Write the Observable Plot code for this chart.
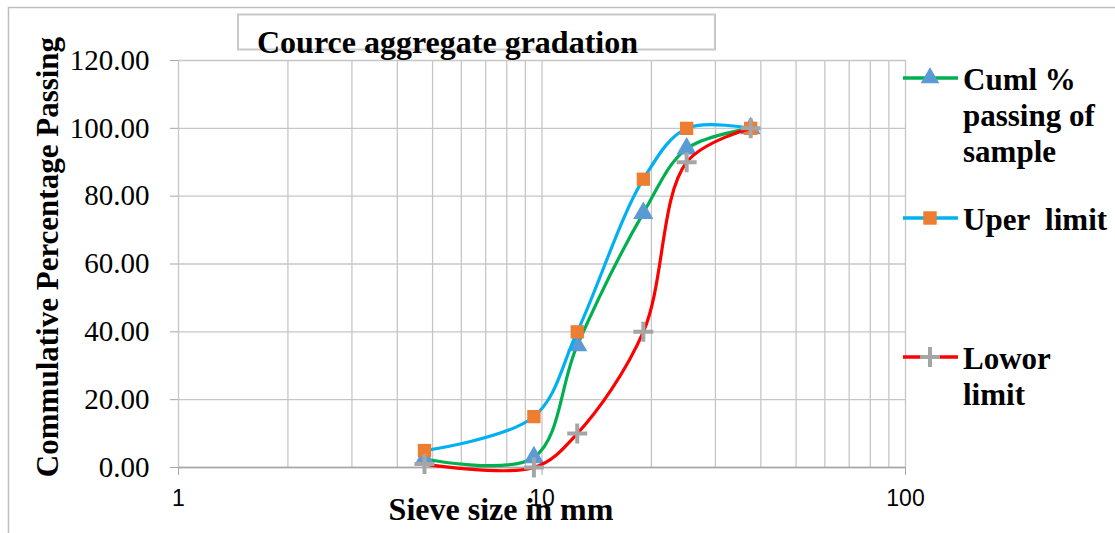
<!DOCTYPE html>
<html>
<head>
<meta charset="utf-8">
<script src="https://cdn.jsdelivr.net/npm/d3@7"></script>
<script src="https://cdn.jsdelivr.net/npm/@observablehq/plot@0.6"></script>
<style>
  body { margin: 0; background: #fff; }
  #wrap { position: relative; width: 1115px; height: 533px; overflow: hidden; background: #fff; }
  #wrap > svg.plot { position: absolute; left: 0; top: 0; }
  #overlay { position: absolute; left: 0; top: 0; pointer-events: none; }
</style>
</head>
<body>
<div id="wrap"></div>
<script>
// ---- Data ----
const sieveSizes = [4.75, 9.5, 12.5, 19, 25, 37.5];          // mm
const samplePassing = [2.5, 3, 36, 75, 94, 100];             // Cuml % passing of sample
const upperLimit = [5, 15, 40, 85, 100, 100];                // Uper limit
const lowerLimit = [1, 0, 10, 40, 90, 100];                  // Lowor limit
const seriesNames = ["Cuml %\npassing of\nsample", "Uper  limit", "Lowor\nlimit"];
const xTickValues = [1, 10, 100];
const xGridValues = [1,2,3,4,5,6,7,8,9,10,20,30,40,50,60,70,80,90,100];
const yTickValues = [0, 20, 40, 60, 80, 100, 120];
const chartTitle = "Cource aggregate gradation";
const xTitle = "Sieve size in mm";
const yTitle = "Commulative Percentage Passing";

const styles = [
  {line: "#00b050", symbol: "triangle", fill: "#5b9bd5", stroke: "none"},
  {line: "#00b0f0", symbol: "square", fill: "#ed7d31", stroke: "none"},
  {line: "#ff0000", symbol: "plus", fill: "none", stroke: "#a5a5a5"}
];
const seriesValues = [samplePassing, upperLimit, lowerLimit];
const tables = seriesValues.map(vals => sieveSizes.map((s, i) => ({size: s, pct: vals[i]})));

const W = 1115, H = 533;
const mL = 178, mR = 210, mT = 60, mB = 66;

const marks = [
  Plot.ruleX(xGridValues, {stroke: "#c6c6c6", strokeWidth: 1.3}),
  Plot.ruleY(yTickValues, {stroke: "#c6c6c6", strokeWidth: 1.3}),
  Plot.ruleY([0], {stroke: "#a6a6a6", strokeWidth: 1.5}),
  Plot.axisX(xTickValues, {tickSize: 8, tickPadding: 14, tickFormat: d => String(d),
    fontFamily: "Liberation Sans", fontSize: 23, stroke: "#a6a6a6", label: null, fill: "#000"}),
  Plot.axisY(yTickValues, {tickSize: 8, tickPadding: 21, tickFormat: d3.format(".2f"),
    fontFamily: "Liberation Serif", fontSize: 29, stroke: "#a6a6a6", label: null, fill: "#000"})
];
tables.forEach((t, k) => {
  const s = styles[k];
  marks.push(Plot.line(t, {x: "size", y: "pct", stroke: s.line, strokeWidth: 3.2, curve: "catmull-rom"}));
  marks.push(Plot.dot(t, {x: "size", y: "pct", symbol: () => s.symbol, r: s.symbol === "plus" ? 6.5 : 7.5,
    fill: s.fill, stroke: s.stroke, strokeWidth: s.symbol === "plus" ? 4 : 0}));
});

const plot = Plot.plot({
  width: W, height: H,
  marginLeft: mL, marginRight: mR, marginTop: mT, marginBottom: mB,
  style: {background: "transparent", fontFamily: "Liberation Serif"},
  x: {type: "log", domain: [1, 100], axis: null},
  y: {domain: [0, 120], axis: null},
  symbol: {type: "identity"},
  marks
});
const wrap = document.getElementById("wrap");
wrap.appendChild(plot);

// ---- Overlay: frame, title, axis titles, legend ----
const ov = d3.select(wrap).append("svg").attr("id", "overlay").attr("width", W).attr("height", H);
ov.append("path").attr("d", `M8.5,${H} V7.5 H${W}`).attr("fill", "none").attr("stroke", "#bfbfbf").attr("stroke-width", 1.5);
ov.append("rect").attr("x", 238).attr("y", 14.5).attr("width", 477).attr("height", 35).attr("fill", "none").attr("stroke", "#c8c8c8").attr("stroke-width", 2);
ov.append("text").attr("x", 257).attr("y", 53).text(chartTitle)
  .attr("font-family", "Liberation Serif").attr("font-weight", "bold").attr("font-size", 32);
ov.append("text").attr("x", 501).attr("y", 520).attr("text-anchor", "middle").text(xTitle)
  .attr("font-family", "Liberation Serif").attr("font-weight", "bold").attr("font-size", 32);
ov.append("text").attr("transform", "translate(58,257) rotate(-90)").attr("text-anchor", "middle").text(yTitle)
  .attr("font-family", "Liberation Serif").attr("font-weight", "bold").attr("font-size", 31);

const legendY = [78, 218, 357];
const symGen = {
  triangle: d3.symbol(d3.symbolTriangle, 150),
  square: d3.symbol(d3.symbolSquare, 180),
  plus: d3.symbol(d3.symbolPlus, 130)
};
seriesNames.forEach((name, k) => {
  const s = styles[k], y = legendY[k];
  ov.append("line").attr("x1", 903).attr("x2", 958).attr("y1", y).attr("y2", y).attr("stroke", s.line).attr("stroke-width", 3.5);
  ov.append("path").attr("d", symGen[s.symbol]()).attr("transform", `translate(930,${y})`)
    .attr("fill", s.fill).attr("stroke", s.stroke).attr("stroke-width", s.symbol === "plus" ? 4 : 0);
  const t = ov.append("text").attr("font-family", "Liberation Serif").attr("font-weight", "bold")
    .attr("font-size", 31).attr("xml:space", "preserve").style("white-space", "pre");
  name.split("\n").forEach((ln, i) => {
    t.append("tspan").attr("x", 963).attr("y", y + 12 + i * 36).text(ln);
  });
});
</script>
</body>
</html>
